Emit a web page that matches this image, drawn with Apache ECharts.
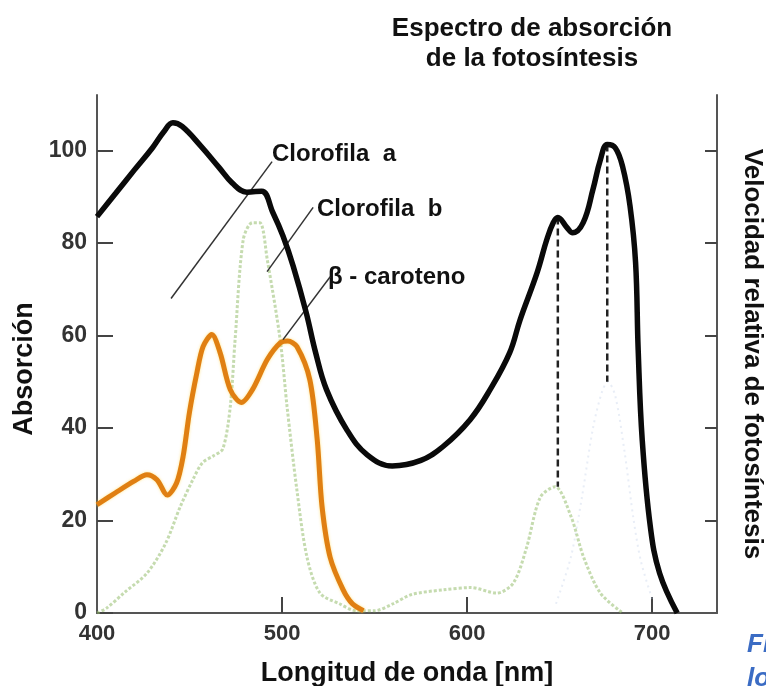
<!DOCTYPE html>
<html>
<head>
<meta charset="utf-8">
<script src="https://cdn.jsdelivr.net/npm/echarts@6/dist/echarts.min.js"></script>
<style>
  html, body { margin: 0; padding: 0; background: #fff; }
  #main { width: 766px; height: 686px; }
</style>
</head>
<body>
<div id="main"></div>
<script>
var myChart = echarts.init(document.getElementById('main'));

// wavelength [nm], value
var fotosintesis = [
    [400, 85.7], [410, 90.7], [420, 95.7], [430, 100.6], [436, 104], [441, 106],
    [446, 105.2], [456, 101], [466, 96.3], [473, 93], [481, 91], [489, 91.2],
    [495, 86.6], [500.5, 81.5], [506, 75], [513, 65], [518, 56.5], [524, 48.3],
    [535, 39.6], [546, 34.2], [559.5, 31.8], [575, 33], [587, 36], [601.6, 41.8],
    [612.4, 48.3], [623, 56.3], [628.6, 63.4], [637.8, 73.6], [643, 80.7],
    [646.5, 84.4], [649, 85.5], [654, 83.3], [657, 82.2], [662.7, 84.4],
    [668, 91.6], [672, 98], [675.7, 101.3], [680, 100.6], [684, 96.5], [688, 88],
    [691, 75.8], [692.4, 57], [694.6, 37.4], [699, 18.6], [704, 8.6], [713.5, 0]
];
var clorofilaB = [
    [400, 0], [405, 1], [415, 4.5], [427, 8.6], [437, 15], [445, 23], [452, 29],
    [457, 32.5], [463, 34], [468, 35.5], [472, 44.6], [474.6, 59], [479, 80.7],
    [484, 84.4], [488, 84.4], [492, 76.4], [499, 59], [502.7, 44.6], [508, 26.6],
    [513.5, 12], [520.5, 4.3], [531, 2], [540, 0.5], [550, 0.5], [560, 2],
    [570, 4], [587, 5], [602, 5.5], [616, 4.3], [625, 6.5], [632, 14],
    [639.5, 25], [647.5, 27.3], [656, 21], [663, 12], [672, 4.3], [684, 0]
];
var caroteno = [
    [400, 23.4], [410, 26], [420, 28.5], [427, 29.9], [432.4, 28.8], [438, 25.5],
    [443, 28.1], [446.5, 33.8], [450, 43.5], [454, 52], [457.3, 57.6], [462, 60.2],
    [466.5, 56.3], [472, 48.3], [478, 45.5], [484, 48.3], [492, 54.8], [499, 58.4],
    [503, 58.8], [508, 57.6], [515, 50.4], [519, 37.4], [521.6, 23], [526, 12],
    [533, 5], [538, 2], [544, 0.5]
];
var clorofilaA = [
    [648, 2], [656, 12], [662, 25], [668, 40], [673, 48], [676, 50],
    [680, 47], [685, 35], [690, 20], [694, 11], [700, 3]
];
var picos = [
    [[649, 85.5], [649, 27.3]],
    [[675.7, 101.3], [675.7, 50]]
];
var guias = [
    [[440, 68], [494.6, 97.6]],
    [[491.9, 73.8], [516.8, 87.7]],
    [[500.5, 59.1], [526, 72.7]],
    [[638.4, 112.5], [666.5, 96.5]]
];
var xTicks = [500, 600, 700];
var xLabels = [400, 500, 600, 700];
var yTicks = [0, 20, 40, 60, 80, 100];

var font = 'Liberation Sans, Arial, sans-serif';

var series = [
    {
        name: 'Clorofila a',
        type: 'line',
        data: clorofilaA,
        smooth: 0.3,
        symbol: 'none',
        lineStyle: { color: 'rgba(180,195,225,0.3)', width: 2, type: [2, 4] },
        z: 1
    },
    {
        name: 'Clorofila b',
        type: 'line',
        data: clorofilaB,
        smooth: 0.3,
        symbol: 'none',
        lineStyle: { color: 'rgba(150,190,110,0.55)', width: 3, type: [3, 2] },
        z: 2,
        markLine: {
            silent: true,
            symbol: 'none',
            label: { show: false },
            lineStyle: { color: '#333', width: 1.5, type: 'solid' },
            data: guias.map(function (g) {
                return [{ coord: g[0] }, { coord: g[1] }];
            })
        }
    },
    {
        name: 'β - caroteno',
        type: 'line',
        data: caroteno,
        smooth: 0.3,
        symbol: 'none',
        lineStyle: {
            color: '#e07f12', width: 5,
            shadowColor: 'rgba(255,210,60,0.6)', shadowBlur: 3
        },
        z: 3
    }
];
picos.forEach(function (p) {
    series.push({
        type: 'line',
        data: p,
        symbol: 'none',
        lineStyle: { color: '#222', width: 2.5, type: [7, 4] },
        z: 4
    });
});
series.push({
    name: 'Fotosíntesis',
    type: 'line',
    data: fotosintesis,
    smooth: 0.4,
    symbol: 'none',
    lineStyle: { color: '#0a0a0a', width: 5.5 },
    z: 5
});

var option = {
    backgroundColor: '#fff',
    animation: false,
    grid: {
        left: 97, right: 49, top: 95, bottom: 73,
        containLabel: false,
        outerBoundsMode: 'none'
    },
    xAxis: {
        type: 'value',
        min: 400,
        max: 735,
        name: 'Longitud de onda [nm]',
        nameLocation: 'middle',
        nameGap: 47,
        nameTextStyle: { fontFamily: font, fontSize: 27, fontWeight: 'bold', color: '#111' },
        axisLine: { lineStyle: { color: '#555', width: 2 } },
        axisTick: { inside: true, length: 16, customValues: xTicks, lineStyle: { color: '#444', width: 2 } },
        axisLabel: { customValues: xLabels, margin: 10, fontFamily: font, fontSize: 22, fontWeight: 'bold', color: '#333' },
        splitLine: { show: false }
    },
    yAxis: [
        {
            type: 'value',
            position: 'left',
            min: 0,
            max: 112,
            name: 'Absorción',
            nameLocation: 'middle',
            nameRotate: 90,
            nameGap: 58,
            nameTextStyle: {
                fontFamily: font, fontSize: 27, fontWeight: 'bold', color: '#111',
                padding: [0, 30, 0, 0]
            },
            axisLine: { show: true, lineStyle: { color: '#555', width: 2 } },
            axisTick: { show: true, inside: true, length: 16, customValues: yTicks, lineStyle: { color: '#444', width: 2 } },
            axisLabel: {
                customValues: yTicks, margin: 10, fontFamily: font, fontSize: 23,
                fontWeight: 'bold', color: '#333', padding: [4, 0, 0, 0]
            },
            splitLine: { show: false }
        },
        {
            type: 'value',
            position: 'right',
            min: 0,
            max: 112,
            name: 'Velocidad relativa de fotosíntesis',
            nameLocation: 'middle',
            nameRotate: -90,
            nameGap: 22,
            nameTextStyle: { fontFamily: font, fontSize: 26, fontWeight: 'bold', color: '#111' },
            axisLine: { show: true, lineStyle: { color: '#555', width: 2 } },
            axisTick: { show: true, inside: true, length: 12, customValues: yTicks.slice(1), lineStyle: { color: '#444', width: 2 } },
            axisLabel: { show: false },
            splitLine: { show: false }
        }
    ],
    graphic: [
        {
            type: 'text', x: 532, y: 14,
            style: {
                text: 'Espectro de absorción\nde la fotosíntesis',
                font: 'bold 26px ' + font, fill: '#111',
                align: 'center', verticalAlign: 'top', lineHeight: 30
            }
        },
        { type: 'text', x: 272, y: 142, style: { text: 'Clorofila  a', font: 'bold 24px ' + font, fill: '#111' } },
        { type: 'text', x: 317, y: 197, style: { text: 'Clorofila  b', font: 'bold 24px ' + font, fill: '#111' } },
        { type: 'text', x: 328, y: 265, style: { text: 'β - caroteno', font: 'bold 24px ' + font, fill: '#111' } },
        { type: 'text', x: 747, y: 632, style: { text: 'Fi', font: 'italic bold 26px ' + font, fill: '#3b6cc4' } },
        { type: 'text', x: 747, y: 666, style: { text: 'lo', font: 'italic bold 26px ' + font, fill: '#3b6cc4' } }
    ],
    series: series
};
myChart.setOption(option);
</script>
</body>
</html>
